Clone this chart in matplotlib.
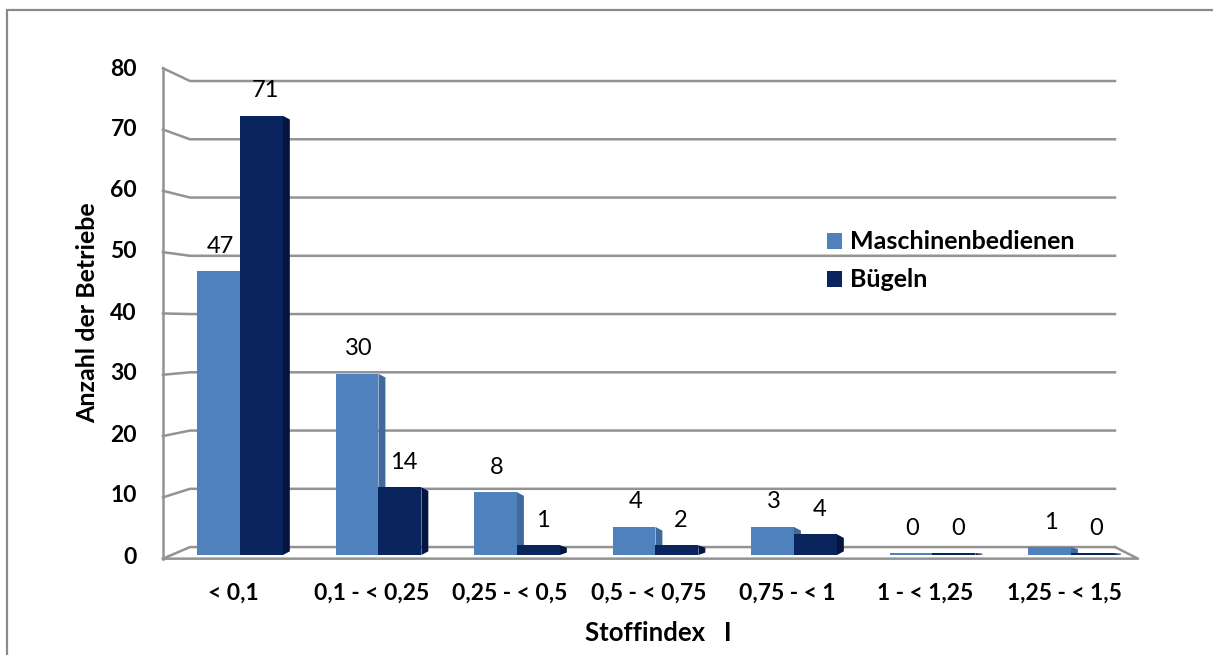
import matplotlib.pyplot as plt
from matplotlib.patches import Polygon, Rectangle, Patch
import numpy as np

plt.rcParams['font.family'] = ['Lato', 'DejaVu Sans']

# Data
categories = ['< 0,1', '0,1 - < 0,25', '0,25 - < 0,5', '0,5 - < 0,75',
              '0,75 - < 1', '1 - < 1,25', '1,25 - < 1,5']
series_names = ['Maschinenbedienen', 'Bügeln']
# printed data labels
maschinen_labels = [47, 30, 8, 4, 3, 0, 1]
buegeln_labels = [71, 14, 1, 2, 4, 0, 0]
# drawn bar heights (as they appear in the picture)
maschinen_heights = [46.5, 29.7, 10.3, 4.6, 4.6, 0.3, 1.3]
buegeln_heights = [72.0, 11.1, 1.6, 1.6, 3.4, 0.3, 0.3]
y_ticks = [0, 10, 20, 30, 40, 50, 60, 70, 80]

light = '#4F81BD'
light_side = '#3F6A9E'
dark = '#0A255E'
dark_side = '#041640'
grid_col = '#939393'

fig = plt.figure(figsize=(12.13, 6.55), dpi=100)
ax = fig.add_axes([162 / 1213, 100 / 655, 976 / 1213, 488 / 655])
ax.set_xlim(-0.563, 6.484)
ax.set_ylim(0, 80)

# outer chart border (only top and left edges fall inside the image)
fig.patches.append(Rectangle((7 / 1213, -0.1), 1.2, 1.1 - 10 / 655,
                             transform=fig.transFigure, fill=False,
                             edgecolor='#8a8a8a', linewidth=1.6))

# pseudo-3D walls
x_front_l, x_back_l, x_back_r, x_front_r = -0.556, -0.361, 6.318, 6.484


def back(v):
    return 1.3 + 0.955 * v


def front(v):
    return -0.6 + 1.005 * v


for v in y_ticks:
    ax.plot([x_front_l, x_back_l, x_back_r], [front(v), back(v), back(v)],
            color=grid_col, lw=1.8, clip_on=False, zorder=1)
ax.plot([x_front_l, x_front_l], [front(0), front(80)], color=grid_col, lw=1.8,
        clip_on=False, zorder=1)
ax.plot([x_front_l, x_front_r, x_back_r], [front(0), front(0), back(0)],
        color=grid_col, lw=1.8, clip_on=False, zorder=1)

x = np.arange(len(categories))
w = 0.31
dx = 0.05


def draw_series(xs, heights, color, side, z):
    ax.bar(xs, heights, width=w, align='edge', color=color, zorder=z)
    for xi, h in zip(xs, heights):
        bev = min(0.6, h / 4)
        xr = xi + w
        ax.add_patch(Polygon([(xr, 0), (xr + dx, bev), (xr + dx, h - bev), (xr, h)],
                             closed=True, facecolor=side, edgecolor='none', zorder=z))


draw_series(x - w, maschinen_heights, light, light_side, 2)
draw_series(x, buegeln_heights, dark, dark_side, 3)

for xi, h, lab in zip(x - w / 2, maschinen_heights, maschinen_labels):
    ax.annotate(str(lab), (xi + 0.01, h), xytext=(0, 18), textcoords='offset points',
                ha='center', va='center', fontsize=17, zorder=5)
for xi, h, lab in zip(x + w / 2, buegeln_heights, buegeln_labels):
    ax.annotate(str(lab), (xi + 0.03, h), xytext=(0, 18), textcoords='offset points',
                ha='center', va='center', fontsize=17, zorder=5)

ax.set_xticks(x - 0.05)
ax.set_xticklabels(categories, fontsize=16.5, fontweight='bold')
ax.set_yticks(y_ticks)
ax.set_yticklabels([str(t) for t in y_ticks], fontsize=16.5, fontweight='bold')
ax.tick_params(axis='both', length=0)
ax.tick_params(axis='x', pad=20)
ax.tick_params(axis='y', pad=18)
for s in ax.spines.values():
    s.set_visible(False)

fig.text(658 / 1213, 1 - 633 / 655, 'Stoffindex   I', ha='center', va='center',
         fontsize=18.5, fontweight='bold')
fig.text(88 / 1213, 1 - 313 / 655, 'Anzahl der Betriebe', ha='center', va='center',
         rotation=90, fontsize=18, fontweight='bold')

handles = [Patch(facecolor=light), Patch(facecolor=dark)]
ax.legend(handles, series_names, loc='upper left',
          bbox_to_anchor=(804 / 1213, 1 - 208 / 655), bbox_transform=fig.transFigure,
          frameon=False, handlelength=0.6, handleheight=0.6, handletextpad=0.35,
          labelspacing=0.6, prop={'size': 18, 'weight': 'bold'})

fig.savefig('out.png', dpi=100)
